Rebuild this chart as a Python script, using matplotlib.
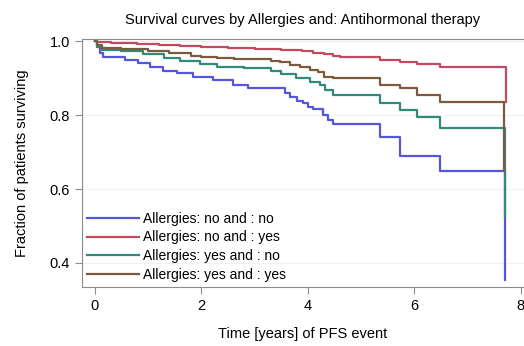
import matplotlib as mpl
mpl.use('Agg')
import matplotlib.pyplot as plt

plt.rcParams['font.family'] = ['Liberation Sans', 'DejaVu Sans']

# Kaplan-Meier step estimates per group (time in years, survival fraction)
t_no_no = [0, 0.04, 0.09, 0.15, 0.56, 0.81, 1.03, 1.28, 1.54, 1.84, 2.22, 2.59, 2.88,
           3.57, 3.67, 3.80, 3.91, 4.00, 4.10, 4.29, 4.38, 4.47, 5.36, 5.73, 6.48, 7.71]
s_no_no = [1.0, 0.985, 0.968, 0.957, 0.949, 0.940, 0.930, 0.920, 0.913, 0.903, 0.895, 0.881, 0.873,
           0.860, 0.849, 0.838, 0.832, 0.822, 0.816, 0.800, 0.786, 0.776, 0.740, 0.690, 0.650, 0.355]

t_no_yes = [0, 0.05, 0.3, 0.8, 1.2, 1.6, 2.0, 2.5, 3.0, 3.5, 3.9, 4.1, 4.3, 4.47,
            4.6, 5.36, 5.73, 6.05, 6.48, 7.73]
s_no_yes = [1.0, 0.997, 0.995, 0.992, 0.989, 0.987, 0.984, 0.981, 0.978, 0.975, 0.972, 0.968, 0.965, 0.960,
            0.957, 0.950, 0.943, 0.938, 0.930, 0.835]

t_yes_no = [0, 0.05, 0.13, 0.5, 0.9, 1.3, 1.6, 1.97, 2.3, 2.8, 3.3, 3.5, 3.77, 4.05,
            4.23, 4.32, 4.47, 5.36, 5.73, 6.05, 6.48, 7.70]
s_yes_no = [1.0, 0.985, 0.976, 0.972, 0.965, 0.955, 0.946, 0.938, 0.930, 0.927, 0.918, 0.910, 0.900, 0.889,
            0.881, 0.868, 0.854, 0.832, 0.814, 0.795, 0.765, 0.524]

t_yes_yes = [0, 0.05, 0.13, 0.5, 1.0, 1.4, 1.8, 2.0, 2.3, 2.62, 3.3, 3.48, 3.67, 3.85,
             4.05, 4.2, 4.3, 4.47, 5.36, 5.73, 6.05, 6.48, 7.69]
s_yes_yes = [1.0, 0.990, 0.981, 0.978, 0.972, 0.967, 0.960, 0.957, 0.955, 0.951, 0.946, 0.943, 0.936, 0.930,
             0.922, 0.916, 0.903, 0.900, 0.881, 0.873, 0.854, 0.835, 0.650]

labels = ['Allergies: no and : no', 'Allergies: no and : yes',
          'Allergies: yes and : no', 'Allergies: yes and : yes']
colors = ['#5656dc', '#c24a5e', '#2f8a7a', '#7b5b3c']

fig = plt.figure(figsize=(5.24, 3.46), dpi=100)
ax = fig.add_axes([0.1565, 0.1705, 0.8435, 0.7165])

series = [(t_no_no, s_no_no), (t_no_yes, s_no_yes), (t_yes_no, s_yes_no), (t_yes_yes, s_yes_yes)]
for (t, s), lab, c in zip(series, labels, colors):
    ax.step(t, s, where='post', color=c, lw=1.6, label=lab)

ax.set_xlim(-0.24, 8.06)
ax.set_ylim(0.335, 1.0055)
ax.set_xticks([0, 2, 4, 6, 8])
ax.set_yticks([0.4, 0.6, 0.8, 1.0])
ax.set_yticklabels(['0.4', '0.6', '0.8', '1.0'])
ax.grid(axis='y', color='#f0f0f0', lw=0.8)
ax.set_axisbelow(True)

for side in ['left', 'bottom', 'top']:
    ax.spines[side].set_color('#8c8c8c')
ax.spines['right'].set_visible(False)
ax.tick_params(colors='#8c8c8c', labelcolor='black', labelsize=10.5, length=5, direction='out')

ax.set_title('Survival curves by Allergies and: Antihormonal therapy', fontsize=10.5, pad=11)
ax.set_xlabel('Time [years] of PFS event', fontsize=10.5, labelpad=10)
ax.set_ylabel('Fraction of patients surviving', fontsize=10.5, labelpad=15)

ax.legend(loc='lower left', frameon=False, fontsize=10, handlelength=3.75,
          labelspacing=0.35, borderaxespad=0.0, borderpad=0.35, handletextpad=0.3)

fig.savefig('out.png', dpi=100)
plt.close(fig)
